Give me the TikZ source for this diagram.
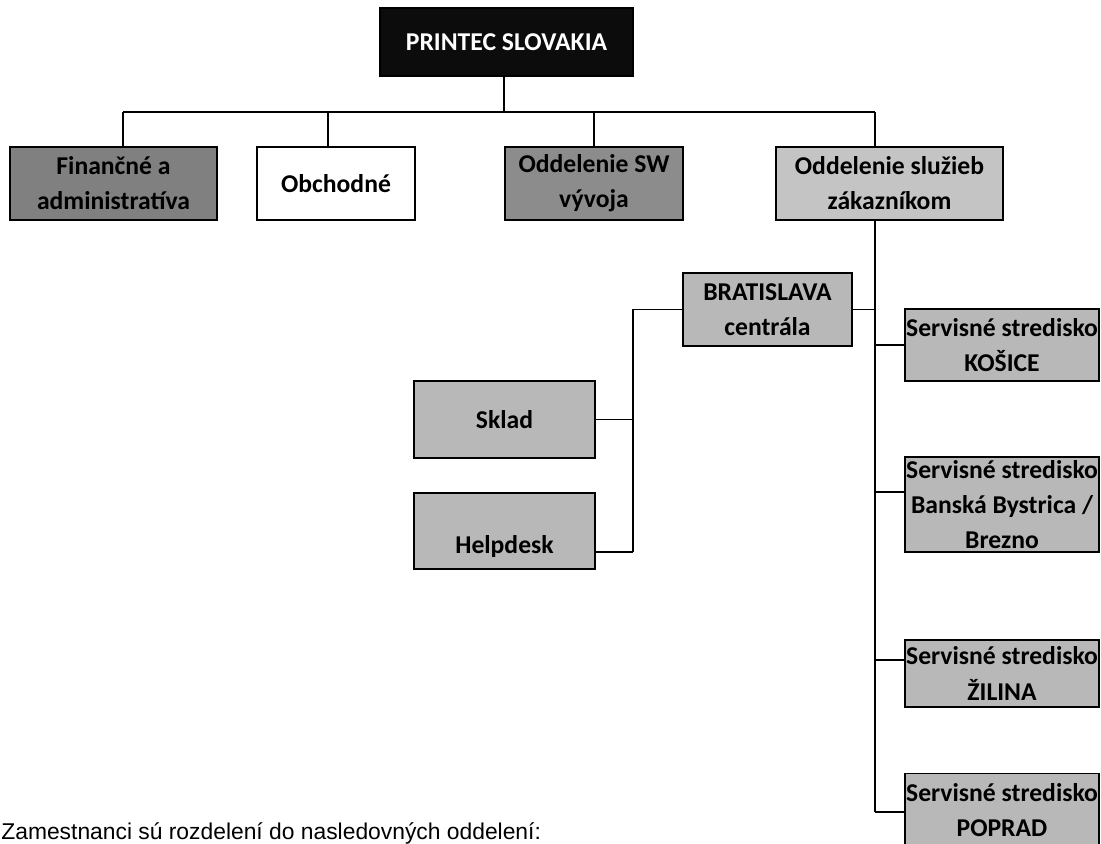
\documentclass[tikz,border=0pt]{standalone}
\usepackage{fontspec}
\setmainfont{Carlito}
\newfontfamily\arialfont{Liberation Sans}
\begin{document}
\begin{tikzpicture}[
        x=0.02cm,
        y=-0.02cm,
        orgbox/.style={
            draw,
            line width=1pt,
            align=center,
            inner sep=0pt,
            font=\fontsize{14.6}{20}\selectfont\bfseries
          },
        link/.style={
            line width=0.8pt
          }]
        % Define colors
        \definecolor{topcolor}{RGB}{12,12,12}      % black
        \definecolor{darkcolor}{RGB}{128,128,128}  % dark gray
        \definecolor{midcolor}{RGB}{140,140,140}   % gray
        \definecolor{lightcolor}{RGB}{196,196,196} % light gray
        \definecolor{unitcolor}{RGB}{184,184,184}  % light gray

        \useasboundingbox (0,0) rectangle (1101,843);

        % Top of the company
        \node[orgbox, fill=topcolor, text=white, minimum width=5.06cm, minimum height=1.36cm] (top) at (506.5,42) {PRINTEC SLOVAKIA};

        % Departments
        \node[orgbox, fill=darkcolor, minimum width=4.14cm, minimum height=1.46cm] (fin) at (113.5,183.5) {Finančné a\\administratíva};
        \node[orgbox, fill=white, minimum width=3.16cm, minimum height=1.46cm] (obch) at (336,183.5) {Obchodné};
        \node[orgbox, fill=midcolor, minimum width=3.56cm, minimum height=1.46cm] (sw) at (594,183.5) {Oddelenie SW\\vývoja};
        \node[orgbox, fill=lightcolor, minimum width=4.54cm, minimum height=1.46cm] (zak) at (889.5,183.5) {Oddelenie služieb\\zákazníkom};

        % Bratislava
        \node[orgbox, fill=unitcolor, minimum width=3.38cm, minimum height=1.46cm] (ba) at (767.5,309.5) {BRATISLAVA\\centrála};
        \node[orgbox, fill=unitcolor, minimum width=3.62cm, minimum height=1.54cm] (sklad) at (504.5,419.5) {Sklad};
        \node[orgbox, fill=unitcolor, minimum width=3.62cm, text height=1.22cm, text depth=0.3cm, anchor=north] (help) at (504.5,492) {Helpdesk};

        % Service centres
        \node[orgbox, fill=unitcolor, minimum width=3.88cm, minimum height=1.44cm] (ke) at (1002,345) {Servisné stredisko\\KOŠICE};
        \node[orgbox, fill=unitcolor, minimum width=3.88cm, minimum height=1.9cm] (bb) at (1002,504.5) {Servisné stredisko\\Banská Bystrica /\\Brezno};
        \node[orgbox, fill=unitcolor, minimum width=3.88cm, minimum height=1.34cm] (za) at (1002,673.5) {Servisné stredisko\\ŽILINA};
        \node[orgbox, fill=unitcolor, minimum width=3.88cm, minimum height=1.46cm] (pp) at (1002,810) {Servisné stredisko\\POPRAD};

        % Connectors
        \coordinate (bus) at (504,112);
        \coordinate (d1) at (123,112);
        \coordinate (d2) at (328,112);
        \coordinate (d3) at (594,112);
        \coordinate (d4) at (875,112);
        \coordinate (trunk) at (875,812);
        \coordinate (bax) at (633,552);

        \draw[link] (bus |- top.south) -- (bus);
        \draw[link] (d1) -- (d4);
        \draw[link] (d1) -- (d1 |- fin.north);
        \draw[link] (d2) -- (d2 |- obch.north);
        \draw[link] (d3) -- (d3 |- sw.north);
        \draw[link] (d4) -- (d4 |- zak.north);
        \draw[link] (d4 |- zak.south) -- (trunk);

        \draw[link] (ba.east) -- (ba.east -| trunk);
        \draw[link] (ba.west) -| (bax);
        \draw[link] (sklad.east) -- (sklad.east -| bax);
        \draw[link] (help.east |- bax) -- (bax);

        \draw[link] (ke.west) -- (ke.west -| trunk);
        \draw[link] ([yshift=0.25cm]bb.west) -- ([yshift=0.25cm]bb.west -| trunk);
        \draw[link] ([yshift=0.27cm]za.west) -- ([yshift=0.27cm]za.west -| trunk);
        \draw[link] (pp.west |- trunk) -- (trunk);

        % Note
        \node[anchor=west, inner sep=0pt, font=\arialfont\fontsize{13}{16}\selectfont] (note) at (1,833) {Zamestnanci sú rozdelení do nasledovných oddelení:};
    \end{tikzpicture}
\end{document}
